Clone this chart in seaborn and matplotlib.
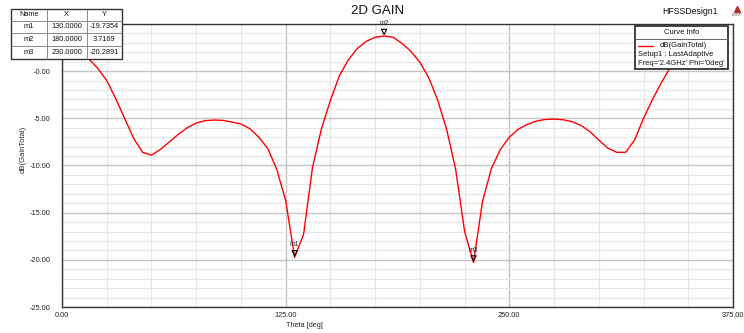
import numpy as np
import pandas as pd
import matplotlib
matplotlib.use("Agg")
import matplotlib.pyplot as plt
import matplotlib.transforms as mtrans
from matplotlib.patches import Rectangle
from matplotlib.ticker import MultipleLocator, FixedLocator
import seaborn as sns

# ---------------- data ----------------
theta = list(range(0, 365, 5))
gain = [3.5, 3.2, 2.5, 1.3, 0.3, -1.0, -2.9, -5.0, -7.1, -8.6,
        -8.9, -8.3, -7.5, -6.7, -6.0, -5.5, -5.25, -5.18, -5.22, -5.4,
        -5.6, -6.1, -7.0, -8.2, -10.4, -13.7, -19.7354, -17.3, -10.2, -6.1,
        -3.1, -0.5, 1.2, 2.4, 3.15, 3.6, 3.7169, 3.6, 2.95, 2.1,
        0.95, -0.7, -3.1, -6.2, -10.4, -17.0, -20.2891, -13.8, -10.3, -8.3,
        -7.0, -6.15, -5.65, -5.3, -5.12, -5.08, -5.15, -5.35, -5.75, -6.4,
        -7.3, -8.15, -8.6, -8.6, -7.3, -5.0, -3.0, -1.2, 0.4, 1.8,
        2.8, 3.3, 3.5]

marker_names = ["m1", "m2", "m3"]
marker_x = [130.0, 180.0, 230.0]
marker_y = [-19.7354, 3.7169, -20.2891]

xticks = [0, 125, 250, 375]
xtick_labels = ["0.00", "125.00", "250.00", "375.00"]
yticks = [-25, -20, -15, -10, -5, 0]
ytick_labels = ["-25.00", "-20.00", "-15.00", "-10.00", "-5.00", "-0.00"]

title = "2D GAIN"
design = "HFSSDesign1"
xlabel = "Theta [deg]"
ylabel = "dB(GainTotal)"
legend_title = "Curve Info"
legend_lines = ["dB(GainTotal)", "Setup1 : LastAdaptive", "Freq='2.4GHz' Phi='0deg'"]
table_header = ["Name", "X", "Y"]

df = pd.DataFrame({"theta": theta, "gain": gain})

# ---------------- figure ----------------
sns.set_style("white")
plt.rcParams["font.family"] = ["Liberation Sans", "DejaVu Sans"]

W, H = 744, 333
fig = plt.figure(figsize=(W / 100, H / 100), dpi=100)
L, R, T, B = 62, 733, 24, 307
ax = fig.add_axes([L / W, 1 - B / H, (R - L) / W, (B - T) / H])

sns.lineplot(data=df, x="theta", y="gain", color="#ff0000", lw=1.0, ax=ax, zorder=3)

ax.set_xlim(0, 375)
ax.set_ylim(-25, 5)
ax.xaxis.set_major_locator(FixedLocator(xticks))
ax.set_xticklabels(xtick_labels)
ax.xaxis.set_minor_locator(MultipleLocator(25))
ax.yaxis.set_major_locator(FixedLocator(yticks))
ax.set_yticklabels(ytick_labels)
ax.yaxis.set_minor_locator(MultipleLocator(1))

ax.grid(which="minor", color="#e6e6e6", lw=0.8, zorder=0)
ax.grid(which="major", color="#c4c4c4", lw=1.0, zorder=0)
ax.set_axisbelow(True)

ax.tick_params(which="major", direction="out", length=4, width=0.8, colors="#222222",
               labelsize=5.3, pad=4)
ax.tick_params(which="minor", direction="out", length=2.5, width=0.8, colors="#222222")
ax.tick_params(axis="x", which="major", length=3, pad=0.8)
ax.tick_params(axis="x", which="minor", length=2)
for s in ax.spines.values():
    s.set_color("#333333")
    s.set_linewidth(1.0)

ax.set_xlabel(xlabel, fontsize=5.3)
ax.set_ylabel(ylabel, fontsize=5.5)
ax.xaxis.set_label_coords(0.362, -0.052)
ax.yaxis.set_label_coords(-0.053, 0.558)

# markers (triangle tip sits on the point)
off = mtrans.offset_copy(ax.transData, fig=fig, x=0, y=3.0, units="points")
ax.scatter(marker_x, marker_y, marker="v", s=14, facecolors="none", edgecolors="black",
           linewidths=0.8, transform=off, zorder=5)
for n, mx, my in zip(marker_names, marker_x, marker_y):
    ax.annotate(n, (mx, my), xytext=(0, 9), textcoords="offset points",
                ha="center", va="center", fontsize=4.8, color="#222222", zorder=6)

# ---------------- overlay (pixel coords) ----------------
ov = fig.add_axes([0, 0, 1, 1], zorder=10)
ov.set_xlim(0, W)
ov.set_ylim(H, 0)
ov.axis("off")
ov.patch.set_alpha(0)

ov.text(378, 11, title, ha="center", va="center", fontsize=9.5, color="#111111")
ov.text(690, 12, design, ha="center", va="center", fontsize=6.3, color="#111111")
ov.plot([737], [9], marker="^", ms=4, color="#b03030")
ov.text(737, 15, "ANSOFT", ha="center", va="center", fontsize=1.8, color="#555555")

# marker table
tx = [11, 46.7, 86.7, 122]
ty = [9, 20.5, 33, 45.5, 58.5]
ov.add_patch(Rectangle((tx[0], ty[0]), tx[-1] - tx[0], ty[-1] - ty[0], facecolor="white",
                       edgecolor="#333333", lw=1.0, zorder=1))
for x in tx[1:-1]:
    ov.plot([x, x], [ty[0], ty[-1]], color="#777777", lw=0.6, zorder=2)
for y in ty[1:-1]:
    ov.plot([tx[0], tx[-1]], [y, y], color="#777777", lw=0.6, zorder=2)
rows = [table_header] + [[n, f"{x:.4f}", f"{y:.4f}"] for n, x, y in zip(marker_names, marker_x, marker_y)]
for r, row in enumerate(rows):
    yc = (ty[r] + ty[r + 1]) / 2
    for c, val in enumerate(row):
        xc = (tx[c] + tx[c + 1]) / 2
        ov.text(xc, yc, val, ha="center", va="center", fontsize=5.3, color="#111111", zorder=3)

# curve info legend
lx0, lx1, ly0, ly1 = 635, 728, 26, 69
ov.add_patch(Rectangle((lx0, ly0), lx1 - lx0, ly1 - ly0, facecolor="white",
                       edgecolor="#333333", lw=1.3, zorder=1))
ov.plot([lx0, lx1], [38.5, 38.5], color="#666666", lw=0.7, zorder=2)
ov.text((lx0 + lx1) / 2, 32.3, legend_title, ha="center", va="center", fontsize=5.5, color="#111111")
ov.plot([638, 653], [45.5, 45.5], color="#ff0000", lw=1.0, zorder=2)
ov.text(660, 45.7, legend_lines[0], ha="left", va="center", fontsize=5.5, color="#111111")
ov.text(638, 54.3, legend_lines[1], ha="left", va="center", fontsize=5.5, color="#111111")
ov.text(638, 63.3, legend_lines[2], ha="left", va="center", fontsize=5.5, color="#111111")

fig.savefig("out.png", dpi=100, facecolor="white")
